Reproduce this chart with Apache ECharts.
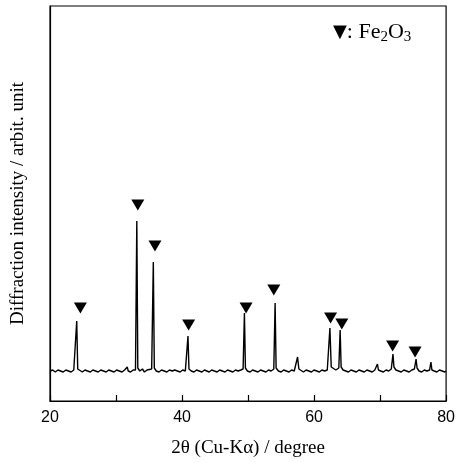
<!DOCTYPE html>
<html>
<head>
<meta charset="utf-8">
<script src="https://cdn.jsdelivr.net/npm/echarts@6/dist/echarts.min.js"></script>
<style>html,body{margin:0;padding:0;background:#fff}#c{width:458px;height:463px}</style>
</head>
<body>
<div id="c"></div>
<script>
// XRD pattern: [2theta (deg), intensity (arb.)]
var pattern = [
 [20.0,0],[20.4,1],[20.8,-1],[21.2,1],[21.6,0],[22.0,-1],[22.4,1],[22.8,0],[23.2,-1],[23.6,1],
 [23.9,1],[24.05,50],[24.2,2],[24.5,0],[24.9,-1],[25.3,1],[25.7,0],[26.1,-1],[26.5,1],[26.9,0],
 [27.3,-1],[27.7,1],[28.1,0],[28.5,-1],[28.9,1],[29.3,0],[29.7,-1],[30.1,1],[30.5,0],[30.9,-1],
 [31.3,1],[31.55,0],[31.7,4],[31.85,0],[32.2,-1],[32.6,1],[32.95,1],[33.15,150],[33.3,3],[33.6,0],
 [34.0,2],[34.3,-1],[34.7,1],[35.0,0],[35.4,2],[35.65,109],[35.8,3],[36.1,0],[36.5,-1],[36.9,1],
 [37.3,0],[37.7,-1],[38.1,1],[38.5,0],[38.9,1],[39.1,3],[39.3,0],[39.7,-1],[40.1,1],[40.5,0],
 [40.75,2],[40.9,35],[41.05,2],[41.4,0],[41.8,-1],[42.2,1],[42.6,0],[43.0,-1],[43.4,1],[43.55,3],
 [43.7,0],[44.1,-1],[44.5,1],[44.9,0],[45.3,-1],[45.7,1],[46.1,0],[46.5,-1],[46.9,1],[47.3,0],
 [47.7,-1],[48.1,1],[48.5,0],[48.9,1],[49.25,2],[49.45,58],[49.6,3],[49.9,0],[50.3,-1],[50.7,1],
 [51.1,0],[51.5,-1],[51.9,1],[52.3,0],[52.7,-1],[53.1,1],[53.5,0],[53.9,2],[54.1,68],[54.25,3],
 [54.6,0],[55.0,-1],[55.4,1],[55.8,0],[56.2,-1],[56.6,1],[57.0,0],[57.3,2],[57.5,14],[57.7,2],
 [58.0,0],[58.4,-1],[58.8,1],[59.2,0],[59.6,-1],[60.0,1],[60.4,0],[60.8,-1],[61.2,1],[61.6,0],
 [62.0,1],[62.25,3],[62.4,43],[62.6,4],[62.9,2],[63.3,1],[63.75,3],[63.95,41],[64.1,4],[64.4,1],
 [64.8,0],[65.2,-1],[65.6,1],[66.0,0],[66.4,-1],[66.8,1],[67.2,0],[67.6,-1],[68.0,1],[68.4,0],
 [68.8,-1],[69.2,1],[69.45,1],[69.6,7],[69.75,1],[70.1,0],[70.5,-1],[70.9,1],[71.3,0],[71.7,2],
 [71.95,17],[72.1,4],[72.4,1],[72.8,0],[73.2,-1],[73.6,1],[74.0,0],[74.4,-1],[74.8,1],[75.2,2],
 [75.45,12],[75.6,3],[75.9,0],[76.3,-1],[76.7,1],[77.1,0],[77.5,1],[77.7,9],[77.85,1],[78.2,0],
 [78.6,-1],[79.0,1],[79.4,0],[79.8,-1],[80.0,0]
];
// Fe2O3 markers: [2theta, marker height]
var markers = [
 [24.6,63],[33.3,166],[35.9,125],[41.0,46],[49.7,63],[53.9,81],[62.5,53],[64.2,47],[71.9,25],[75.3,19]
];
var xTicks = [20, 40, 60, 80];

var chart = echarts.init(document.getElementById('c'), null, {renderer: 'canvas'});
chart.setOption({
  animation: false,
  backgroundColor: '#fff',
  grid: {left: 50, right: 11, top: 6, bottom: 62, show: true, borderColor: '#000', borderWidth: 1.2},
  xAxis: {
    type: 'value', min: 20, max: 80, interval: 10,
    name: '2\u03b8 (Cu-K\u03b1) / degree', nameLocation: 'middle', nameGap: 38,
    nameTextStyle: {fontFamily: 'Liberation Serif', fontSize: 19, color: '#000'},
    axisLine: {show: true, onZero: false, lineStyle: {color: '#000', width: 1.2}},
    axisTick: {show: true, inside: true, length: 6, lineStyle: {color: '#000', width: 1.2}},
    axisLabel: {
      fontFamily: 'Liberation Sans', fontSize: 16, color: '#000', margin: 9,
      formatter: function (v) { return xTicks.indexOf(v) >= 0 ? String(v) : ''; }
    },
    splitLine: {show: false}
  },
  yAxis: {
    type: 'value', min: -30, max: 365,
    name: 'Diffraction intensity / arbit. unit', nameLocation: 'middle', nameGap: 22,
    nameTextStyle: {fontFamily: 'Liberation Serif', fontSize: 19, color: '#000'},
    axisLine: {show: true, onZero: false, lineStyle: {color: '#000', width: 1.2}},
    axisTick: {show: false}, axisLabel: {show: false}, splitLine: {show: false}
  },
  series: [
    {
      type: 'line', data: pattern, showSymbol: false, symbol: 'none',
      lineStyle: {color: '#000', width: 1.4}
    },
    {
      type: 'scatter', data: markers, symbol: 'triangle', symbolRotate: 180,
      symbolSize: [13, 11], itemStyle: {color: '#000', opacity: 1}
    }
  ],
  graphic: [
    {
      type: 'text', left: 333, top: 21,
      style: {
        text: '{t|\u25bc}{n|: Fe}{s|2}{n|O}{s|3}',
        rich: {
          t: {fontFamily: 'DejaVu Sans', fontSize: 18, fill: '#000'},
          n: {fontFamily: 'Liberation Serif', fontSize: 22, fill: '#000'},
          s: {fontFamily: 'Liberation Serif', fontSize: 15, fill: '#000', padding: [11, 0, 0, 0]}
        }
      }
    }
  ]
});
</script>
</body>
</html>
